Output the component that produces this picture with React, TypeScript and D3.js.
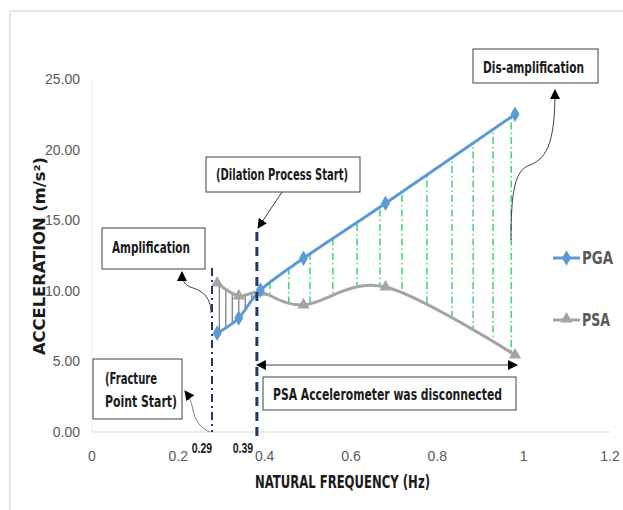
import React from "react";
import * as d3 from "d3";

const frequency = [0.29, 0.34, 0.39, 0.49, 0.68, 0.98];
const pgaValues = [7.0, 8.07, 10.05, 12.3, 16.2, 22.5];
const psaValues = [10.55, 9.63, 9.9, 9.0, 10.27, 5.45];
const yTicks = [0, 5, 10, 15, 20, 25];
const xTicks = [0, 0.2, 0.4, 0.6, 0.8, 1, 1.2];
const greenHatch = [0.412, 0.456, 0.505, 0.558, 0.614, 0.667, 0.718, 0.776, 0.834, 0.883, 0.929, 0.971];
const grayHatch = [0.295, 0.31, 0.325, 0.34, 0.355, 0.37];
const fracturePoint = 0.278;
const dilationPoint = 0.382;
const pointLabels = ["0.29", "0.39"];

const NARROW = "'Liberation Sans Narrow','DejaVu Sans Condensed','Arial Narrow',sans-serif";
const TICKFONT = "'Liberation Sans',Arial,sans-serif";
const BLUE = "#5b9bd5";
const GRAY = "#a5a5a5";
const NAVY = "#1f3864";
const GREEN = "#2fcf6a";

export default function App() {
  const W = 623, H = 510;
  const x = d3.scaleLinear().domain([0, 1.2]).range([92, 610]);
  const y = d3.scaleLinear().domain([0, 25]).range([432, 79]);
  const pga = frequency.map((f, i) => [x(f), y(pgaValues[i])] as [number, number]);
  const psa = frequency.map((f, i) => [x(f), y(psaValues[i])] as [number, number]);
  const line = d3.line().curve(d3.curveCardinal.tension(0));
  const pgaPath = line(pga) || "";
  const psaPath = line(psa) || "";
  const psaRev = line([...psa].reverse()) || "";
  const between = pgaPath + psaRev.replace(/^M/, "L") + "Z";

  const diamond = d3.symbol().type(d3.symbolDiamond).size(70)() || "";
  const triangle = d3.symbol().type(d3.symbolTriangle).size(65)() || "";

  const boxes = [
    { x0: 473, y0: 49, x1: 598, y1: 83 },
    { x0: 102, y0: 228, x1: 205, y1: 269 },
    { x0: 93, y0: 359, x1: 182, y1: 419 },
    { x0: 206, y0: 157, x1: 360, y1: 192 },
    { x0: 263, y0: 377, x1: 516, y1: 410 },
  ];
  const boxTexts = [
    { t: "Dis-amplification", cx: 533.5, by: 73, len: 101 },
    { t: "Amplification", cx: 151, by: 253, len: 78 },
    { t: "(Fracture", cx: 131, by: 384, len: 52 },
    { t: "Point Start)", cx: 141, by: 407, len: 72 },
    { t: "(Dilation Process Start)", cx: 282, by: 180, len: 132 },
    { t: "PSA Accelerometer was disconnected", cx: 387.5, by: 400, len: 229 },
  ];
  const pointLabelX = [202, 243];

  return (
    <svg width={W} height={H} style={{ position: "absolute", left: 0, top: 0, background: "#fff" }}>
      <defs>
        <clipPath id="betweenClip">
          <path d={between} />
        </clipPath>
        <marker id="ah" viewBox="0 0 10 10" refX="9" refY="5" markerWidth="10" markerHeight="10" orient="auto-start-reverse" markerUnits="userSpaceOnUse">
          <path d="M0,0 L10,5 L0,10 Z" fill="#000" />
        </marker>
      </defs>
      <rect x={10} y={11} width={W + 20} height={H + 20} fill="#fff" stroke="#e6e6e6" strokeWidth={2} />

      {/* axes */}
      <line x1={92} x2={92} y1={y(25)} y2={y(0)} stroke="#ececec" strokeWidth={1} />
      <line x1={92} x2={610} y1={y(0)} y2={y(0)} stroke="#d9d9d9" strokeWidth={1} />
      {yTicks.map((v) => (
        <text key={v} x={80} y={y(v) + 5} textAnchor="end" fontFamily={TICKFONT} fontSize={14} fill="#595959">
          {v.toFixed(2)}
        </text>
      ))}
      {xTicks.map((v) => (
        <text key={v} x={x(v)} y={461} textAnchor="middle" fontFamily={TICKFONT} fontSize={14} fill="#595959">
          {String(v)}
        </text>
      ))}
      <text transform="translate(45,256) rotate(-90)" textAnchor="middle" fontFamily="'DejaVu Sans',sans-serif" fontWeight="bold" fontSize={16} fill="#1a1a1a" textLength={198} lengthAdjust="spacingAndGlyphs">
        ACCELERATION (m/s²)
      </text>
      <text x={342.5} y={488} textAnchor="middle" fontFamily={NARROW} fontWeight="bold" fontSize={18} fill="#1a1a1a" textLength={175} lengthAdjust="spacingAndGlyphs">
        NATURAL FREQUENCY (Hz)
      </text>

      {/* hatching */}
      <g clipPath="url(#betweenClip)">
        {grayHatch.map((f) => (
          <line key={"g" + f} x1={x(f)} x2={x(f)} y1={y(25)} y2={y(0)} stroke="#7f7f7f" strokeWidth={1.3} />
        ))}
        {greenHatch.map((f) => (
          <line key={"h" + f} x1={x(f)} x2={x(f)} y1={y(25)} y2={y(0)} stroke={GREEN} strokeWidth={1.4} strokeDasharray="7,3,1.5,3" />
        ))}
      </g>

      {/* series */}
      <path d={psaPath} fill="none" stroke={GRAY} strokeWidth={3} />
      <path d={pgaPath} fill="none" stroke={BLUE} strokeWidth={3} />
      {psa.map((p, i) => (
        <path key={"t" + i} d={triangle} transform={`translate(${p[0]},${p[1]})`} fill={GRAY} />
      ))}
      {pga.map((p, i) => (
        <path key={"d" + i} d={diamond} transform={`translate(${p[0]},${p[1]})`} fill={BLUE} />
      ))}

      {/* navy markers */}
      <line x1={x(fracturePoint)} x2={x(fracturePoint)} y1={268} y2={y(0)} stroke={NAVY} strokeWidth={2} strokeDasharray="8,4,2,4" />
      <line x1={x(dilationPoint)} x2={x(dilationPoint)} y1={232} y2={440} stroke={NAVY} strokeWidth={3} strokeDasharray="9,6" />
      {pointLabels.map((t, i) => (
        <text key={t} transform={`translate(${pointLabelX[i]},453) scale(0.75,1)`} textAnchor="middle" fontFamily={TICKFONT} fontWeight="bold" fontSize={14} fill="#1a1a1a">
          {t}
        </text>
      ))}

      {/* arrows */}
      <path d="M511,240 C511,190 515,170 530,165 C548,158 555,140 555,90" fill="none" stroke="#404040" strokeWidth={1} markerEnd="url(#ah)" />
      <path d="M211,313 C211,295 200,290 190,287 C184,284 182,280 182,272" fill="none" stroke="#404040" strokeWidth={1} markerEnd="url(#ah)" />
      <path d="M210,432 C200,428 195,420 193,410 C191,400 188,395 185,391" fill="none" stroke="#808080" strokeWidth={1} markerEnd="url(#ah)" />
      <line x1={282} y1={192} x2={258} y2={228} stroke="#404040" strokeWidth={1} markerEnd="url(#ah)" />
      <line x1={x(dilationPoint)} y1={365} x2={517} y2={365} stroke="#7f7f7f" strokeWidth={1.5} markerStart="url(#ah)" markerEnd="url(#ah)" />

      {/* boxes */}
      {boxes.map((b, i) => (
        <rect key={"b" + i} x={b.x0} y={b.y0} width={b.x1 - b.x0} height={b.y1 - b.y0} fill="#fff" stroke="#404040" strokeWidth={1} />
      ))}
      {boxTexts.map((b, i) => (
        <text key={"bt" + i} x={b.cx} y={b.by} textAnchor="middle" fontFamily={NARROW} fontWeight="bold" fontSize={15} fill="#1a1a1a" textLength={b.len} lengthAdjust="spacingAndGlyphs">
          {b.t}
        </text>
      ))}

      {/* legend */}
      <line x1={553} x2={580} y1={258} y2={258} stroke={BLUE} strokeWidth={3} />
      <path d={diamond} transform="translate(566.5,258)" fill={BLUE} />
      <text x={582} y={264} fontFamily={NARROW} fontWeight="bold" fontSize={18} fill="#595959" textLength={31} lengthAdjust="spacingAndGlyphs">PGA</text>
      <line x1={553} x2={580} y1={320} y2={320} stroke={GRAY} strokeWidth={3} />
      <path d={triangle} transform="translate(566.5,319)" fill={GRAY} />
      <text x={582} y={326} fontFamily={NARROW} fontWeight="bold" fontSize={18} fill="#595959" textLength={28} lengthAdjust="spacingAndGlyphs">PSA</text>
    </svg>
  );
}
